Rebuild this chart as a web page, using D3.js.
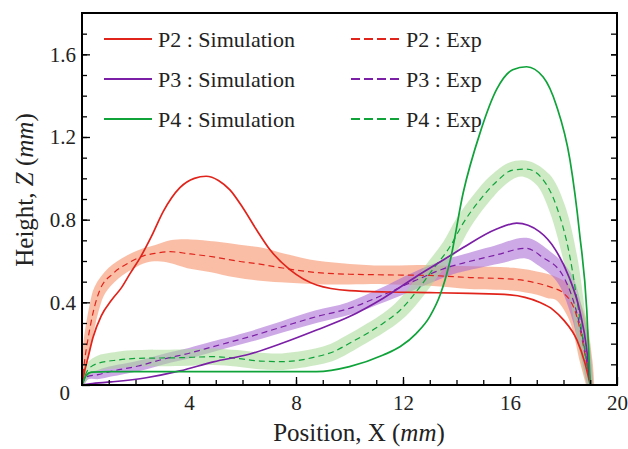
<!DOCTYPE html>
<html>
<head>
<meta charset="utf-8">
<script src="https://cdn.jsdelivr.net/npm/d3@7"></script>
<style>
  body { margin: 0; background: #fff; }
  svg text { font-family: "Liberation Serif", "Times New Roman", serif; fill: #222; }
</style>
</head>
<body>
<svg id="chart" width="628" height="449"></svg>
<script>
// ---- data ----
// simulation curves: [x, z]
const p2Sim = [[0,0],[0.1,0.07],[0.22,0.13],[0.41,0.23],[0.72,0.335],[1.1,0.41],[1.47,0.47],[1.8,0.54],[2.17,0.615],[2.6,0.72],[3.04,0.84],[3.66,0.955],[4.2,1.0],[4.64,1.01],[5.1,0.99],[5.53,0.944],[6.0,0.86],[6.53,0.75],[7.03,0.654],[7.78,0.557],[8.77,0.484],[10.0,0.457],[11.5,0.45],[13.0,0.447],[14.5,0.443],[16.0,0.436],[17.1,0.40],[17.6,0.365],[18.0,0.315],[18.5,0.218],[18.8,0.107],[19.0,0]];
const p3Sim = [[0,0],[0.3,0.006],[1.1,0.015],[2.4,0.035],[3.66,0.068],[4.91,0.112],[6.28,0.15],[7.5,0.203],[8.77,0.266],[10.0,0.331],[11.26,0.42],[12.5,0.525],[13.76,0.625],[14.25,0.665],[15.5,0.755],[16.25,0.783],[17.1,0.742],[17.7,0.654],[18.2,0.524],[18.6,0.363],[18.87,0.17],[19.0,0]];
const p4Sim = [[0,0],[0.15,0.045],[0.35,0.062],[1.0,0.065],[4.0,0.065],[7.0,0.065],[8.77,0.065],[10.0,0.089],[11.26,0.145],[11.9,0.186],[12.5,0.25],[13.0,0.331],[13.4,0.44],[13.76,0.6],[14.25,0.93],[14.88,1.22],[15.5,1.43],[16.1,1.525],[16.62,1.54],[17.24,1.49],[17.74,1.35],[18.24,1.09],[18.6,0.735],[18.87,0.363],[19.0,0]];

// experiment curves: [x, z, half band width]
const p2Exp = [[0,0,0.01],[0.1,0.12,0.015],[0.22,0.22,0.02],[0.47,0.38,0.025],[0.67,0.46,0.03],[1.17,0.54,0.035],[1.8,0.595,0.035],[2.3,0.625,0.035],[2.79,0.638,0.04],[3.29,0.645,0.055],[4.0,0.635,0.07],[4.91,0.62,0.075],[5.8,0.6,0.08],[6.65,0.585,0.08],[7.5,0.566,0.07],[8.77,0.544,0.057],[10.0,0.536,0.05],[11.26,0.533,0.045],[13.0,0.53,0.05],[14.5,0.52,0.055],[16.1,0.512,0.055],[17.1,0.49,0.055],[17.6,0.47,0.055],[18.0,0.445,0.05],[18.5,0.33,0.04],[18.86,0.107,0.03],[19.0,0,0.02]];
const p3Exp = [[0,0,0.01],[0.17,0.04,0.015],[0.6,0.05,0.022],[1.05,0.065,0.025],[2.1,0.092,0.025],[3.04,0.125,0.025],[4.04,0.155,0.025],[4.91,0.186,0.025],[6.28,0.234,0.025],[7.5,0.282,0.027],[8.77,0.331,0.03],[10.0,0.371,0.03],[11.26,0.436,0.035],[12.5,0.508,0.04],[13.76,0.573,0.04],[14.25,0.59,0.04],[15.5,0.63,0.045],[16.6,0.662,0.05],[17.2,0.62,0.045],[18.0,0.524,0.04],[18.5,0.348,0.03],[18.8,0.17,0.025],[19.0,0,0.015]];
const p4Exp = [[0,0,0.01],[0.22,0.073,0.025],[0.6,0.105,0.035],[1.35,0.121,0.04],[2.1,0.129,0.04],[3.66,0.132,0.04],[4.91,0.137,0.04],[5.78,0.129,0.04],[6.65,0.116,0.04],[7.5,0.113,0.04],[8.77,0.137,0.04],[9.4,0.161,0.04],[10.0,0.202,0.04],[11.26,0.299,0.04],[11.9,0.363,0.04],[12.5,0.452,0.04],[13.1,0.557,0.04],[13.76,0.67,0.04],[14.25,0.783,0.04],[14.88,0.896,0.04],[15.5,0.985,0.04],[16.1,1.04,0.04],[16.62,1.045,0.04],[17.24,0.993,0.04],[17.74,0.864,0.04],[18.24,0.62,0.035],[18.6,0.33,0.03],[18.87,0.107,0.025],[19.0,0,0.015]];

const seriesNames = ["P2", "P3", "P4"];
const lineColors = ["#e0241b", "#7b1fa6", "#0fa33a"];
const bandColors = ["#f89b76", "#a462d2", "#a6d896"];
const bandOpacity = [0.65, 0.55, 0.55];

const xTicks = [4, 8, 12, 16, 20];
const yTicks = [0, 0.4, 0.8, 1.2, 1.6];

// ---- chart ----
const svg = d3.select("#chart");
const x = d3.scaleLinear().domain([0, 20]).range([82, 617]);
const y = d3.scaleLinear().domain([0, 1.8]).range([385, 13]);

svg.append("clipPath").attr("id", "plotclip")
  .append("rect")
  .attr("x", x(0)).attr("y", y(1.8))
  .attr("width", x(20) - x(0)).attr("height", y(0) - y(1.8));

const sims = [p2Sim, p3Sim, p4Sim];
const exps = [p2Exp, p3Exp, p4Exp];

// band: offset perpendicular to the curve (in pixels) so steep parts keep their width
function bandPoints(data) {
  const pts = data.map(d => [x(d[0]), y(d[1]), y(0) - y(d[2])]);
  return pts.map((p, i) => {
    const a = pts[Math.max(0, i - 1)], b = pts[Math.min(pts.length - 1, i + 1)];
    let dx = b[0] - a[0], dy = b[1] - a[1];
    const len = Math.hypot(dx, dy) || 1;
    dx /= len; dy /= len;
    return { x: p[0], y: p[1], nx: -dy * p[2], ny: dx * p[2] };
  });
}

const band = d3.area()
  .x0(d => d.x - d.nx).y0(d => d.y - d.ny)
  .x1(d => d.x + d.nx).y1(d => d.y + d.ny)
  .curve(d3.curveCatmullRom.alpha(0.5));

const plot = svg.append("g").attr("clip-path", "url(#plotclip)");

exps.forEach((e, i) => {
  plot.append("path")
    .attr("d", band(bandPoints(e)))
    .attr("fill", bandColors[i])
    .attr("fill-opacity", bandOpacity[i]);
});

const line = d3.line()
  .x(d => x(d[0]))
  .y(d => y(d[1]))
  .curve(d3.curveMonotoneX);

exps.forEach((e, i) => {
  plot.append("path")
    .attr("d", line(e))
    .attr("fill", "none")
    .attr("stroke", lineColors[i])
    .attr("stroke-width", 1.2)
    .attr("stroke-dasharray", "6,4");
});
sims.forEach((s, i) => {
  plot.append("path")
    .attr("d", line(s))
    .attr("fill", "none")
    .attr("stroke", lineColors[i])
    .attr("stroke-width", 1.7);
});

// axes with inward ticks
const minorX = d3.range(1, 20);
const minorY = d3.range(1, 18).map(v => v / 10);
const serif = "Liberation Serif, Times New Roman, serif";

svg.append("g")
  .attr("transform", `translate(0,${y(0)})`)
  .call(d3.axisBottom(x).tickValues(minorX).tickSize(-5).tickFormat(""))
  .call(g => g.select(".domain").remove());
svg.append("g")
  .attr("transform", `translate(0,${y(0)})`)
  .call(d3.axisBottom(x).tickValues(xTicks).tickSize(-8).tickPadding(10).tickFormat(d3.format("d")))
  .attr("font-family", serif)
  .attr("font-size", 21)
  .call(g => g.select(".domain").remove())
  .call(g => g.selectAll("text").attr("fill", "#222"));

svg.append("g")
  .attr("transform", `translate(${x(0)},0)`)
  .call(d3.axisLeft(y).tickValues(minorY).tickSize(-5).tickFormat(""))
  .call(g => g.select(".domain").remove());
svg.append("g")
  .attr("transform", `translate(${x(0)},0)`)
  .call(d3.axisLeft(y).tickValues(yTicks).tickSize(-8).tickPadding(6).tickFormat(d => d === 0 ? "0" : d3.format(".1f")(d)))
  .attr("font-family", serif)
  .attr("font-size", 21)
  .call(g => g.select(".domain").remove())
  .call(g => g.selectAll("text").attr("fill", "#222"))
  .call(g => g.selectAll(".tick").filter(d => d === 0).select("text").attr("dy", "0.7em").attr("x", -12));

svg.append("g")
  .attr("transform", `translate(${x(20)},0)`)
  .call(d3.axisRight(y).tickValues(minorY.concat(yTicks.slice(1))).tickSize(-6).tickFormat(""))
  .call(g => g.select(".domain").remove());

svg.selectAll(".tick line").attr("stroke", "#000").attr("stroke-width", 1.3);

// frame
svg.append("rect")
  .attr("x", x(0)).attr("y", y(1.8))
  .attr("width", x(20) - x(0)).attr("height", y(0) - y(1.8))
  .attr("fill", "none").attr("stroke", "#000").attr("stroke-width", 2);

// axis titles
const xt = svg.append("text")
  .attr("x", 359).attr("y", 441)
  .attr("text-anchor", "middle")
  .attr("font-size", 25);
xt.append("tspan").text("Position, X (");
xt.append("tspan").attr("font-style", "italic").text("mm");
xt.append("tspan").text(")");

const yt = svg.append("text")
  .attr("transform", "translate(33,190) rotate(-90)")
  .attr("text-anchor", "middle")
  .attr("font-size", 25);
yt.append("tspan").text("Height, ");
yt.append("tspan").attr("font-style", "italic").text("Z");
yt.append("tspan").text(" (");
yt.append("tspan").attr("font-style", "italic").text("mm");
yt.append("tspan").text(")");

// legend
const legendY = [39, 79, 119];
seriesNames.forEach((name, i) => {
  svg.append("line")
    .attr("x1", 104).attr("x2", 152)
    .attr("y1", legendY[i]).attr("y2", legendY[i])
    .attr("stroke", lineColors[i]).attr("stroke-width", 2);
  svg.append("text")
    .attr("x", 158).attr("y", legendY[i]).attr("dy", "0.35em")
    .attr("font-size", 22)
    .text(name + " : Simulation");

  svg.append("line")
    .attr("x1", 351).attr("x2", 399)
    .attr("y1", legendY[i]).attr("y2", legendY[i])
    .attr("stroke", lineColors[i]).attr("stroke-width", 1.8)
    .attr("stroke-dasharray", "9,4");
  svg.append("text")
    .attr("x", 406).attr("y", legendY[i]).attr("dy", "0.35em")
    .attr("font-size", 22)
    .text(name + " : Exp");
});
</script>
</body>
</html>
